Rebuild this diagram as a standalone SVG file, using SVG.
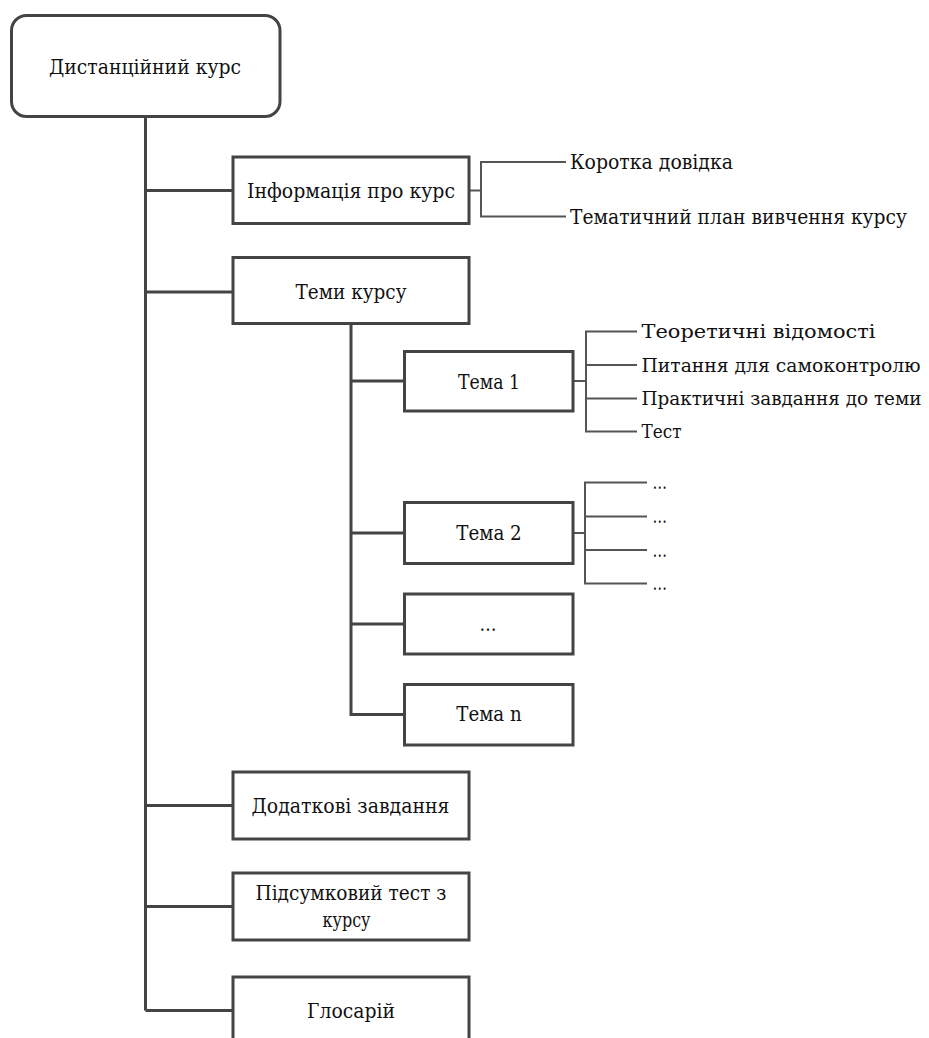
<svg xmlns="http://www.w3.org/2000/svg" width="929" height="1038" viewBox="0 0 929 1038">
  <style>
    .box { fill: #ffffff; stroke: #444444; stroke-width: 3; }
    .link { fill: none; stroke: #444444; stroke-width: 3; }
    .leaf { fill: none; stroke: #555555; stroke-width: 2; }
    text { font-family: "DejaVu Serif", "Liberation Serif", serif; font-size: 20px; fill: #111111; }
    .c { text-anchor: middle; }
    .narrow { font-size: 18.5px; }
  </style>
  <rect width="929" height="1038" fill="#ffffff"/>

  <!-- connectors -->
  <g id="connectors">
    <!-- main trunk and branches -->
    <path class="link" d="M145.5 116.5 V1010.5 M145.5 190.5 H233 M145.5 292 H233 M145.5 805.5 H233 M145.5 906.5 H233 M145.5 1010.5 H233"/>
    <!-- topics trunk -->
    <path class="link" d="M351 324 V714.5 H404.5 M351 381 H404.5 M351 533 H404.5 M351 624 H404.5"/>
    <!-- course info leaves -->
    <path class="leaf" d="M469 190.5 H481 M566 162 H481 V216.5 H566"/>
    <!-- topic 1 leaves -->
    <path class="leaf" d="M573 381 H586 M637 331.5 H586 V431.5 H637 M586 365 H637 M586 398.5 H637"/>
    <!-- topic 2 leaves -->
    <path class="leaf" d="M573 533 H585 M647 482.5 H585 V583.5 H647 M585 516.5 H647 M585 550 H647"/>
  </g>

  <g id="root">
    <rect class="box" x="11.5" y="15.5" width="268.5" height="101" rx="15"/>
    <text class="c" x="145" y="73.5" textLength="192" lengthAdjust="spacingAndGlyphs">Дистанційний курс</text>
  </g>

  <g id="course-info">
    <rect class="box" x="233" y="157" width="236" height="66.5"/>
    <text class="c" x="351" y="197.5" textLength="208" lengthAdjust="spacingAndGlyphs">Інформація про курс</text>
  </g>
  <g id="info-brief">
    <text x="570" y="168.5" textLength="163" lengthAdjust="spacingAndGlyphs">Коротка довідка</text>
  </g>
  <g id="info-plan">
    <text x="570" y="223.5" textLength="337" lengthAdjust="spacingAndGlyphs">Тематичний план вивчення курсу</text>
  </g>

  <g id="topics">
    <rect class="box" x="233" y="257.5" width="236" height="66"/>
    <text class="c" x="351" y="298.5" textLength="111" lengthAdjust="spacingAndGlyphs">Теми курсу</text>
  </g>

  <g id="topic-1">
    <rect class="box" x="404.5" y="351.5" width="168.5" height="59.5"/>
    <text class="c" x="489" y="388.5" textLength="62" lengthAdjust="spacingAndGlyphs">Тема 1</text>
  </g>
  <g id="t1-theory">
    <text class="narrow" x="641.5" y="338" textLength="234" lengthAdjust="spacingAndGlyphs">Теоретичні відомості</text>
  </g>
  <g id="t1-questions">
    <text class="narrow" x="641.5" y="371.5" textLength="279" lengthAdjust="spacingAndGlyphs">Питання для самоконтролю</text>
  </g>
  <g id="t1-practice">
    <text class="narrow" x="641.5" y="405" textLength="280" lengthAdjust="spacingAndGlyphs">Практичні завдання до теми</text>
  </g>
  <g id="t1-test">
    <text class="narrow" x="641.5" y="438" textLength="40" lengthAdjust="spacingAndGlyphs">Тест</text>
  </g>

  <g id="topic-2">
    <rect class="box" x="404.5" y="502.5" width="168.5" height="61"/>
    <text class="c" x="489" y="540" textLength="65.5" lengthAdjust="spacingAndGlyphs">Тема 2</text>
  </g>
  <g id="t2-item-1"><text x="652.5" y="489" textLength="14.5" lengthAdjust="spacingAndGlyphs">…</text></g>
  <g id="t2-item-2"><text x="652.5" y="523" textLength="14.5" lengthAdjust="spacingAndGlyphs">…</text></g>
  <g id="t2-item-3"><text x="652.5" y="556.5" textLength="14.5" lengthAdjust="spacingAndGlyphs">…</text></g>
  <g id="t2-item-4"><text x="652.5" y="590" textLength="14.5" lengthAdjust="spacingAndGlyphs">…</text></g>

  <g id="topic-more">
    <rect class="box" x="404.5" y="594" width="168.5" height="60"/>
    <text class="c" x="488" y="630.5" textLength="17" lengthAdjust="spacingAndGlyphs">…</text>
  </g>

  <g id="topic-n">
    <rect class="box" x="404.5" y="684.5" width="168.5" height="60.5"/>
    <text class="c" x="489" y="721" textLength="65.5" lengthAdjust="spacingAndGlyphs">Тема n</text>
  </g>

  <g id="extra-tasks">
    <rect class="box" x="233" y="772" width="236" height="67"/>
    <text class="c" x="350.5" y="813" textLength="198" lengthAdjust="spacingAndGlyphs">Додаткові завдання</text>
  </g>

  <g id="final-test">
    <rect class="box" x="233" y="873" width="236" height="67"/>
    <text class="c" x="351" y="899.5" textLength="191" lengthAdjust="spacingAndGlyphs">Підсумковий тест з</text>
    <text class="c" x="346.5" y="926.5" textLength="48" lengthAdjust="spacingAndGlyphs">курсу</text>
  </g>

  <g id="glossary">
    <rect class="box" x="233" y="977" width="236" height="70"/>
    <text class="c" x="351" y="1018" textLength="88" lengthAdjust="spacingAndGlyphs">Глосарій</text>
  </g>
</svg>
